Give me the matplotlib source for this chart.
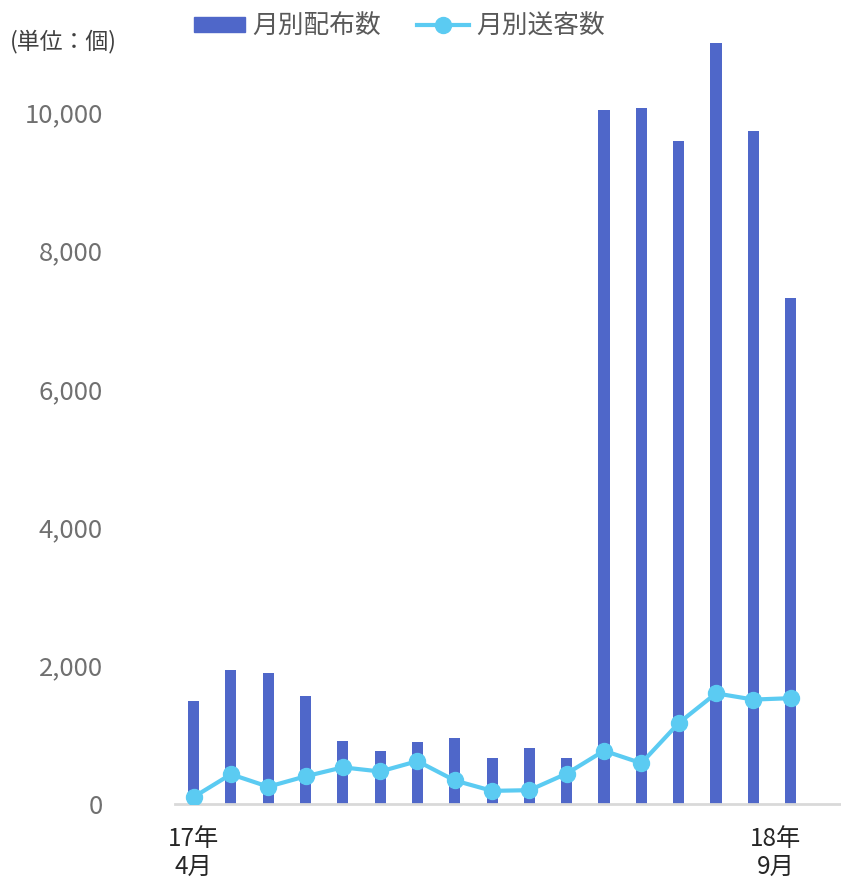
import matplotlib.pyplot as plt
from matplotlib.patches import Patch
from matplotlib.lines import Line2D
from matplotlib import ticker

plt.rcParams['font.family'] = ['Noto Sans CJK JP', 'DejaVu Sans']

# monthly data, 17年4月 .. (17 months)
months = ['17年\n4月', '5月', '6月', '7月', '8月', '9月', '10月', '11月', '12月',
          '1月', '2月', '3月', '4月', '5月', '6月', '7月', '18年\n9月']
distributed = [1490, 1940, 1890, 1560, 910, 770, 890, 950, 670,
               810, 660, 10030, 10060, 9590, 11000, 9730, 7310]
referred = [100, 430, 250, 400, 530, 470, 620, 340, 190,
            200, 440, 770, 590, 1170, 1600, 1510, 1530]

bar_color = '#4F67C9'
line_color = '#5BCBF2'

fig = plt.figure(figsize=(8.41, 8.81), dpi=100)
ax = fig.add_axes([0.208, 0.0874, 0.792, 0.8635])

x = list(range(len(months)))
ax.bar(x, distributed, width=0.3, color=bar_color, zorder=2)
ax.plot(x, referred, color=line_color, lw=3, marker='o', ms=11.5, zorder=3)

ax.set_xlim(-0.5, 17.35)
ax.set_ylim(0, 11000)
ax.yaxis.set_major_locator(ticker.MultipleLocator(2000))
ax.yaxis.set_major_formatter(ticker.FuncFormatter(lambda v, p: f'{int(v):,}'))
ax.tick_params(axis='y', length=0, pad=52, labelsize=18.5, labelcolor='#707070')

# only the first and last months are labelled
ax.set_xticks([0, 15.6])
ax.set_xticklabels([months[0], months[-1]], fontsize=17.5, color='#262626', linespacing=1.08)
ax.tick_params(axis='x', length=0, pad=16)

for s in ['top', 'right', 'left']:
    ax.spines[s].set_visible(False)
ax.spines['bottom'].set_color('#d9d9d9')
ax.spines['bottom'].set_linewidth(2)

fig.text(0.012, 0.953, '(単位：個)', fontsize=16.5, color='#404040', va='center')

handles = [Patch(color=bar_color),
           Line2D([], [], color=line_color, lw=3, marker='o', ms=11.5)]
fig.legend(handles, ['月別配布数', '月別送客数'], loc='center', bbox_to_anchor=(0.475, 0.970),
           ncol=2, frameon=False, fontsize=18.5, labelcolor='#595959',
           handlelength=2.0, handleheight=0.55, handletextpad=0.3, columnspacing=1.4)

fig.savefig('out.png', dpi=100)
